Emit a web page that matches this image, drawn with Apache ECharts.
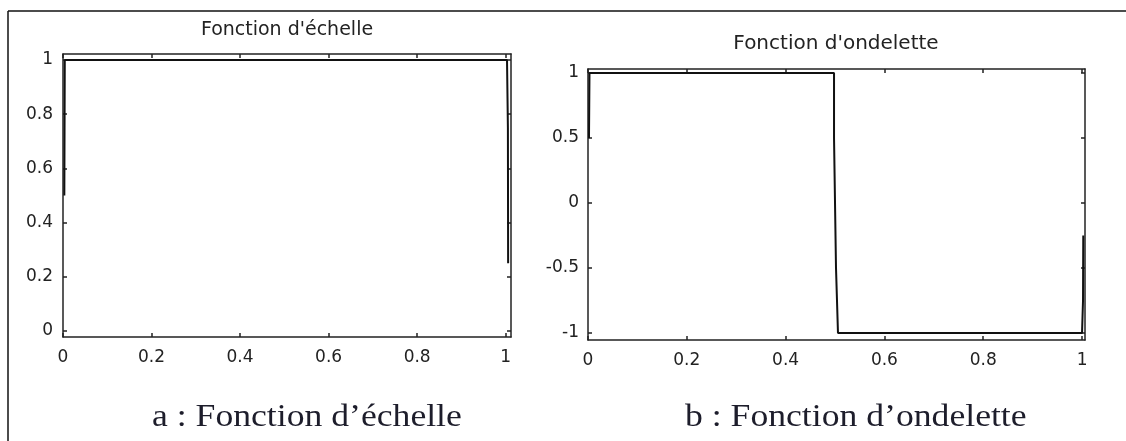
<!DOCTYPE html>
<html>
<head>
<meta charset="utf-8">
<script src="https://cdn.jsdelivr.net/npm/echarts@6/dist/echarts.min.js"></script>
<style>
  html, body { margin: 0; padding: 0; background: #ffffff; }
  #chart { width: 1126px; height: 441px; }
</style>
</head>
<body>
<div id="chart"></div>
<script>
// Haar scaling function (phi) and wavelet (psi), sampled as plotted
const phiX = [0.003, 0.004, 1.003, 1.005, 1.0055];
const phiY = [0.5, 1, 1, 0.75, 0.25];
const psiX = [0.002, 0.003, 0.498, 0.498, 0.502, 0.502, 0.506, 0.506, 1.000, 1.002, 1.0025];
const psiY = [0.5, 1, 1, 0.5, 0.5, -0.5, -0.5, -1, -1, -0.75, -0.25];

// Tick values
const xTicks = [0, 0.2, 0.4, 0.6, 0.8, 1];
const phiTicks = [0, 0.2, 0.4, 0.6, 0.8, 1];
const psiTicks = [-1, -0.5, 0, 0.5, 1];

// Texts
const titles = ["Fonction d'échelle", "Fonction d'ondelette"];
const captions = ["a : Fonction d\u2019échelle", "b : Fonction d\u2019ondelette"];

const ink = '#222';
const tickFont = { fontFamily: 'DejaVu Sans', fontSize: 17, color: ink };

function pairs(xs, ys) { return xs.map((x, i) => [x, ys[i]]); }

function xAx(grid, pos, min, max, labels) {
  return {
    type: 'value', gridIndex: grid, position: pos, min: min, max: max,
    axisLine: { show: true, onZero: false, lineStyle: { color: ink, width: 1.5 } },
    axisTick: { show: true, inside: true, length: 4, customValues: xTicks, lineStyle: { color: ink, width: 1.5 } },
    axisLabel: labels ? Object.assign({ show: true, margin: 12, customValues: xTicks }, tickFont) : { show: false },
    splitLine: { show: false }
  };
}
function yAx(grid, pos, min, max, ticks, labels, margin) {
  return {
    type: 'value', gridIndex: grid, position: pos, min: min, max: max,
    axisLine: { show: true, onZero: false, lineStyle: { color: ink, width: 1.5 } },
    axisTick: { show: true, inside: true, length: 4, customValues: ticks, lineStyle: { color: ink, width: 1.5 } },
    axisLabel: labels ? Object.assign({ show: true, margin: margin, customValues: ticks }, tickFont) : { show: false },
    splitLine: { show: false }
  };
}

const chart = echarts.init(document.getElementById('chart'), null, { renderer: 'canvas' });
chart.setOption({
  animation: false,
  backgroundColor: '#ffffff',
  grid: [
    { left: 63, top: 54, width: 448, height: 283 },
    { left: 588, top: 69, width: 497, height: 271 }
  ],
  xAxis: [
    xAx(0, 'bottom', 0, 1.012, true),
    xAx(0, 'top', 0, 1.012, false),
    xAx(1, 'bottom', 0, 1.006, true),
    xAx(1, 'top', 0, 1.006, false)
  ],
  yAxis: [
    yAx(0, 'left', -0.022, 1.022, phiTicks, true, 10),
    yAx(0, 'right', -0.022, 1.022, phiTicks, false, 0),
    yAx(1, 'left', -1.054, 1.031, psiTicks, true, 9),
    yAx(1, 'right', -1.054, 1.031, psiTicks, false, 0)
  ],
  series: [
    {
      type: 'line', xAxisIndex: 0, yAxisIndex: 0, data: pairs(phiX, phiY),
      showSymbol: false, lineStyle: { color: '#111', width: 2 }
    },
    {
      type: 'line', xAxisIndex: 2, yAxisIndex: 2, data: pairs(psiX, psiY),
      showSymbol: false, lineStyle: { color: '#111', width: 2 }
    }
  ],
  graphic: [
    // figure frame
    { type: 'line', shape: { x1: 8, y1: 11, x2: 1126, y2: 11 }, style: { stroke: '#111', lineWidth: 1.5 } },
    { type: 'line', shape: { x1: 8, y1: 11, x2: 8, y2: 441 }, style: { stroke: '#111', lineWidth: 1.5 } },
    // panel titles
    { type: 'text', x: 287, y: 30, style: { text: titles[0], fontFamily: 'DejaVu Sans', fontSize: 19, fill: ink, align: 'center', verticalAlign: 'middle' } },
    { type: 'text', x: 836, y: 44, style: { text: titles[1], fontFamily: 'DejaVu Sans', fontSize: 20, fill: ink, align: 'center', verticalAlign: 'middle' } },
    // captions (wide book serif)
    { type: 'text', x: 152, y: 418, scaleX: 1.15, style: { text: captions[0], fontFamily: 'Liberation Serif', fontSize: 31, fill: '#1d1d2b', align: 'left', verticalAlign: 'middle' } },
    { type: 'text', x: 685, y: 418, scaleX: 1.15, style: { text: captions[1], fontFamily: 'Liberation Serif', fontSize: 31, fill: '#1d1d2b', align: 'left', verticalAlign: 'middle' } }
  ]
});
</script>
</body>
</html>
